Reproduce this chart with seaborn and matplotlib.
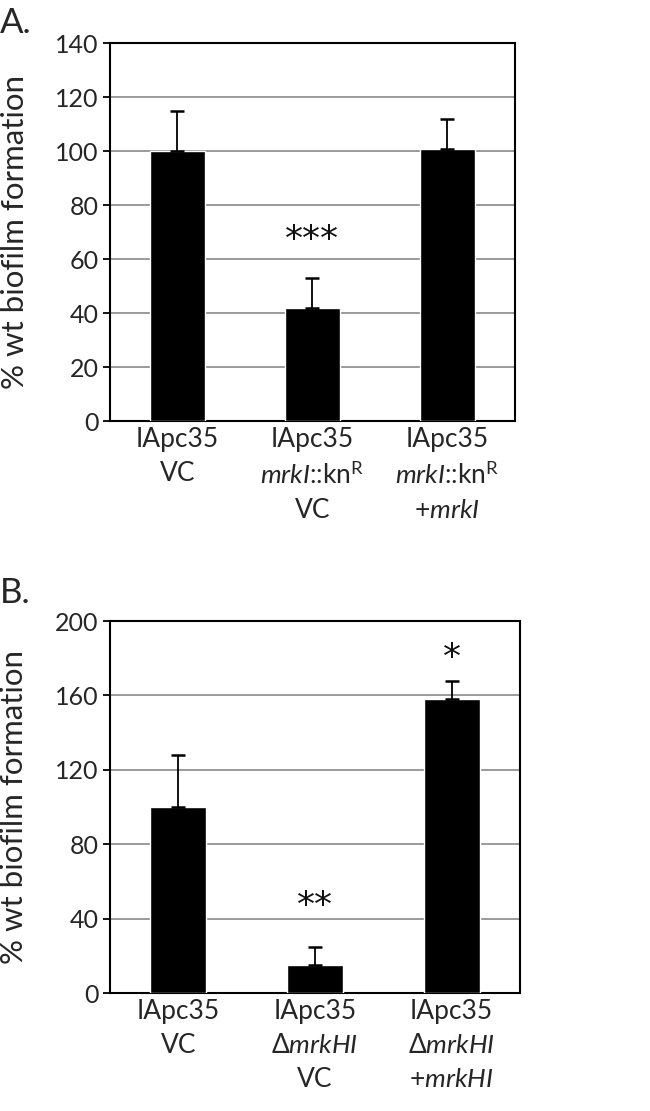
import pandas as pd
import matplotlib
matplotlib.use("Agg")
import matplotlib.pyplot as plt
import seaborn as sns

# panel A
labels_a = ["IApc35\nVC",
            "IApc35\n$\\mathit{mrkI}$::kn$^{\\mathrm{R}}$\nVC",
            "IApc35\n$\\mathit{mrkI}$::kn$^{\\mathrm{R}}$\n+$\\mathit{mrkI}$"]
means_a = [100, 42, 101]
errs_a = [15, 11, 11]
stars_a = ["", "***", ""]

# panel B
labels_b = ["IApc35\nVC",
            "IApc35\nΔ$\\mathit{mrkHI}$\nVC",
            "IApc35\nΔ$\\mathit{mrkHI}$\n+$\\mathit{mrkHI}$"]
means_b = [100, 15, 158]
errs_b = [28, 10, 10]
stars_b = ["", "**", "*"]

sns.set_style("white")
plt.rcParams['font.family'] = ['Lato', 'DejaVu Sans']
plt.rcParams['mathtext.fontset'] = 'custom'
plt.rcParams['mathtext.rm'] = 'Lato'
plt.rcParams['mathtext.it'] = 'Lato:italic'


def draw_panel(ax, labels, means, errs, stars, ymax, step, star_y, letter, letter_y):
    df = pd.DataFrame({'group': labels, 'value': means})
    sns.barplot(data=df, x='group', y='value', color='black', width=0.41,
                errorbar=None, ax=ax, zorder=3, saturation=1)
    ax.errorbar(range(len(means)), means, yerr=[[0] * len(errs), errs],
                fmt='none', ecolor='black', elinewidth=1.3, capsize=5,
                capthick=1.8, zorder=4)
    for i, s in enumerate(stars):
        if s:
            ax.text(i, star_y[i], s, ha='center', va='center', fontsize=26,
                    color='#111111', family='DejaVu Sans')
    ax.set_xlim(-0.5, len(means) - 0.5)
    ax.set_ylim(0, ymax)
    ax.set_yticks(range(0, ymax + 1, step))
    ax.yaxis.grid(True, color='#9a9a9a', linewidth=1.4, zorder=0)
    ax.set_axisbelow(True)
    ax.set_xlabel("")
    ax.set_ylabel("% wt biofilm formation", fontsize=22.5)
    ax.yaxis.set_label_coords(-0.2, 0.5)
    ax.tick_params(axis='y', labelsize=18, length=5, width=1.3, color='black',
                   left=True, pad=3)
    ax.tick_params(axis='x', labelsize=19, length=0, pad=4)
    for t in ax.get_xticklabels():
        t.set_linespacing(1.45)
    for sp in ax.spines.values():
        sp.set_color('black')
        sp.set_linewidth(1.5)
    ax.text(-0.232, letter_y, letter, transform=ax.transAxes, fontsize=25,
            ha='center', va='baseline')


fig = plt.figure(figsize=(6.5, 11.11), dpi=100)
ax_a = fig.add_axes([0.169, 0.621, 0.623, 0.340])
ax_b = fig.add_axes([0.169, 0.106, 0.631, 0.335])

draw_panel(ax_a, labels_a, means_a, errs_a, stars_a, 140, 20,
           [0, 67, 0], "A.", 1.027)
draw_panel(ax_b, labels_b, means_b, errs_b, stars_b, 200, 40,
           [0, 47, 180], "B.", 1.048)

fig.savefig("out.png", dpi=100)
